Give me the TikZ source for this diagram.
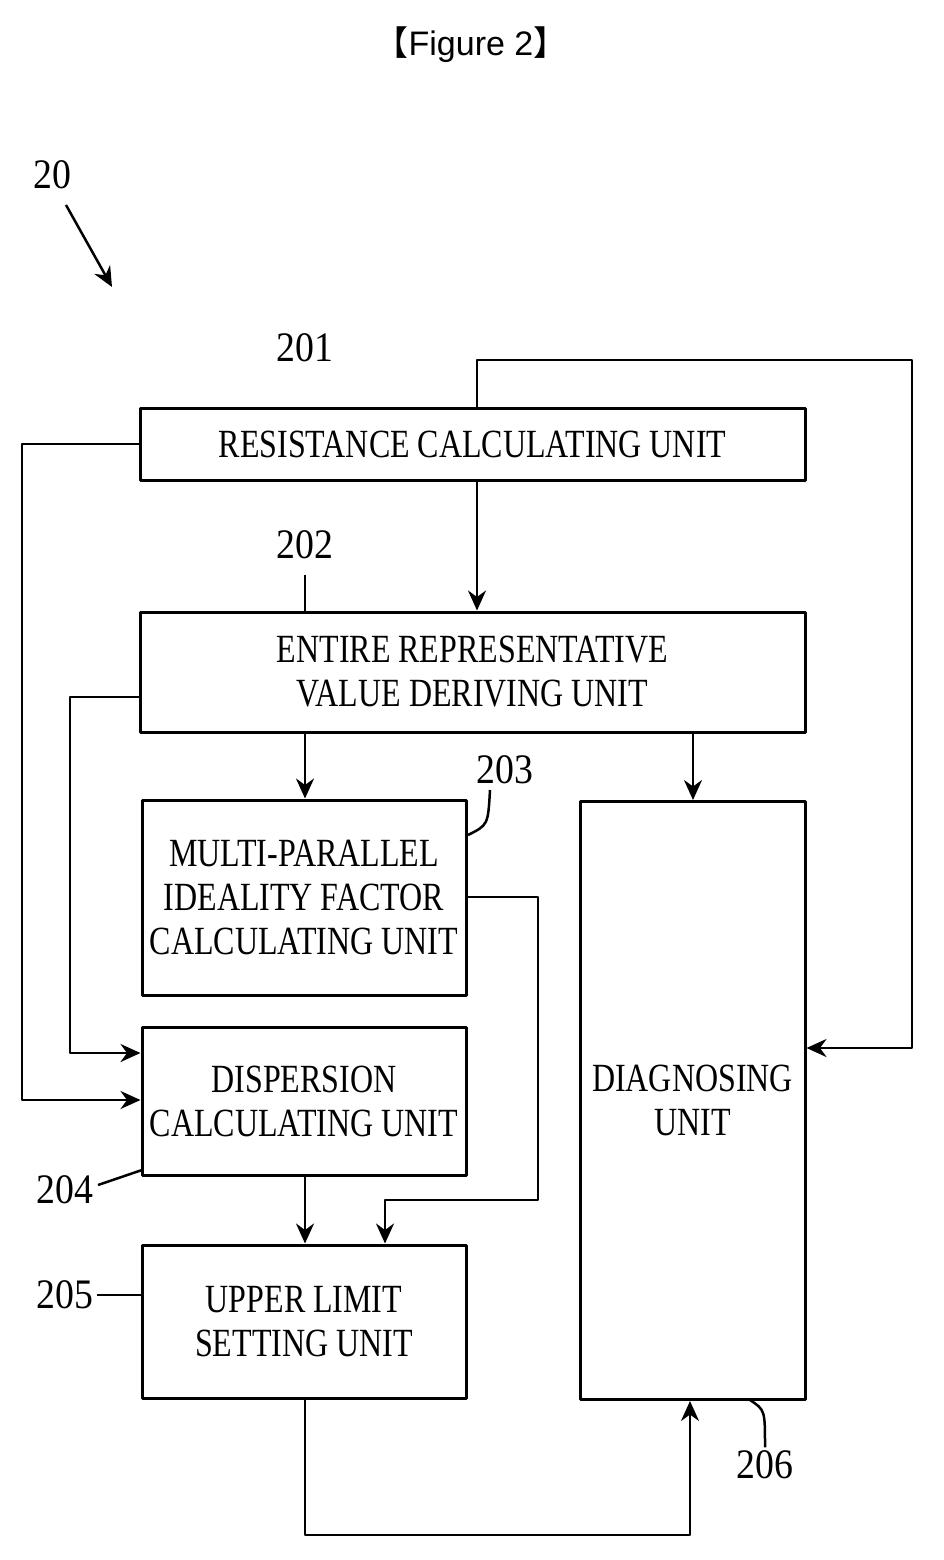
\documentclass[tikz,border=0pt]{standalone}
\usepackage{fontspec}
\setmainfont{Liberation Serif}
\setsansfont{Liberation Sans}
\newfontfamily\cjkfont{Noto Sans CJK SC}
\usetikzlibrary{arrows.meta, positioning}

\begin{document}
\begin{tikzpicture}[
                x=1pt, y=-1pt,
                line join=bevel,
                unitbox/.style={draw=black, line width=3pt, inner sep=0pt, align=center,
                                font=\fontsize{40}{44}\selectfont\addfontfeature{FakeStretch=0.8}},
                link/.style={draw=black, line width=2.5pt, -{Stealth[length=20pt, width=18pt]}},
                wire/.style={draw=black, line width=2.5pt},
                refnum/.style={font=\fontsize{42}{46}\selectfont\addfontfeature{FakeStretch=0.9}}
                ]
                \useasboundingbox (0,0) rectangle (943,1560);
                %% Title
                \node[font=\sffamily\fontsize{34}{38}\selectfont] (title) at (471,45) {{\cjkfont 【}Figure 2{\cjkfont 】}};

                %% Units
                \node[unitbox, minimum width=665pt, minimum height=72pt] (res) at (472.5,444) {RESISTANCE CALCULATING UNIT};
                \node[unitbox, minimum width=665pt, minimum height=120pt] (rep) at (472.5,672) {ENTIRE REPRESENTATIVE\\VALUE DERIVING UNIT};
                \node[unitbox, minimum width=324pt, minimum height=195pt] (ideal) at (304,897.5) {MULTI-PARALLEL\\IDEALITY FACTOR\\CALCULATING UNIT};
                \node[unitbox, minimum width=324pt, minimum height=148pt] (disp) at (304,1101) {DISPERSION\\CALCULATING UNIT};
                \node[unitbox, minimum width=324pt, minimum height=153pt] (upper) at (304,1321.5) {UPPER LIMIT\\SETTING UNIT};
                \node[unitbox, minimum width=225pt, minimum height=598pt, anchor=north] (diag) at (692.5,800) {DIAGNOSING\\UNIT};

                %% Connections
                \draw[link] (res.north -| 477,0) -- (477,360) -- (912,360) -- (912,1048) -- (diag.east |- 0,1048);
                \draw[link] (res.west) -- (22,444) -- (22,1100) -- (disp.west |- 0,1100);
                \draw[link] (res.south -| 477,0) -- (rep.north -| 477,0);
                \draw[link] (rep.west |- 0,697) -- (70,697) -- (70,1053) -- (disp.west |- 0,1053);
                \draw[link] (rep.south -| 305,0) -- (ideal.north -| 305,0);
                \draw[link] (rep.south -| 693,0) -- (diag.north -| 693,0);
                \draw[link] (ideal.east |- 0,897) -- (538,897) -- (538,1200) -- (385,1200) -- (upper.north -| 385,0);
                \draw[link] (disp.south -| 305,0) -- (upper.north -| 305,0);
                \draw[link] (upper.south -| 305,0) -- (305,1535) -- (690,1535) -- (diag.south -| 690,0);

                %% Reference numerals
                \node[refnum] (n20) at (52,175) {20};
                \coordinate (p20) at (112,287);
                \draw[link] (66,205) -- (p20);
                \node[refnum] (n201) at (305,348) {201};
                \node[refnum] (n202) at (305,545) {202};
                \draw[wire] (305,575) -- (305,612);
                \node[refnum] (n203) at (505,770) {203};
                \draw[wire] (490,790) .. controls (488,825) .. (468,835);
                \node[refnum] (n204) at (65,1190) {204};
                \draw[wire] (98,1185) -- (142,1170);
                \node[refnum] (n205) at (65,1295) {205};
                \draw[wire] (n205.east) -- (upper.west |- n205);
                \node[refnum] (n206) at (765,1465) {206};
                \draw[wire] (n206.north) .. controls (765,1410) .. (750,1400);
\end{tikzpicture}
\end{document}
